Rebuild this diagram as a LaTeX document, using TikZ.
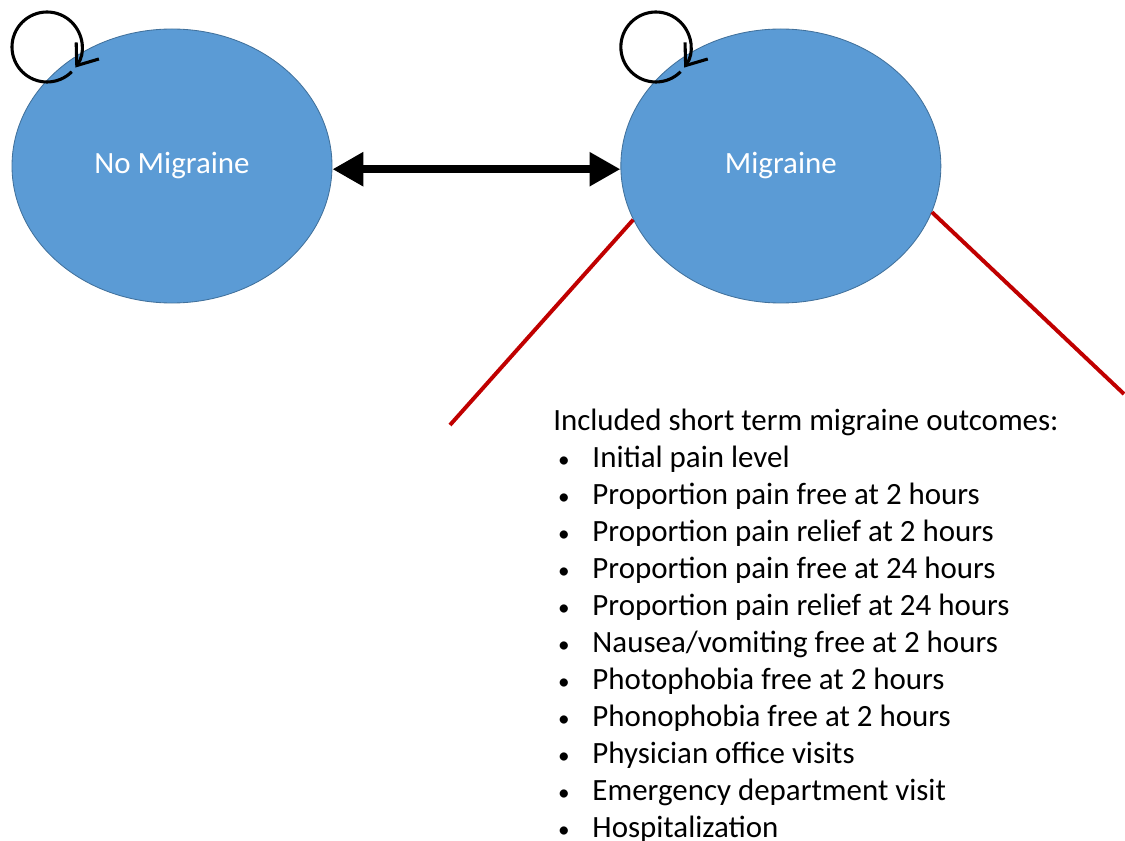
\documentclass[tikz,border=0pt]{standalone}
\usepackage{fontspec}
\setmainfont{Carlito}
\definecolor{statefill}{RGB}{91,155,213}
\definecolor{stateline}{RGB}{65,113,156}
\definecolor{outred}{RGB}{192,0,0}
\usetikzlibrary{shapes, arrows.meta, positioning, calc}
\newcommand{\outitem}[1]{\makebox[0.98cm][l]{\hspace{0.12cm}\scalebox{0.75}{\textbullet}}#1}

\begin{document}
\begin{tikzpicture}
  \useasboundingbox (0,0) rectangle (28.125,21);
  \tikzset{
    state/.style={ellipse, draw=stateline, fill=statefill, line width=0.6pt, minimum width=8cm, minimum height=6.85cm, text=white, font=\fontsize{22}{26}\selectfont},
    selfloop/.style={line width=2.2pt, -{Straight Barb[length=13pt,width=20pt,line width=2.2pt]}},
    redline/.style={outred, line width=2.8pt},
  }
  \node[state] (nomig) at (4.3,16.85) {No Migraine};
  \node[state, right=7.2cm of nomig] (mig) {Migraine};

  % transitions between the two states
  \draw[line width=5.5pt, {Triangle[length=22pt,width=23pt]}-{Triangle[length=22pt,width=23pt]}] ([yshift=-0.08cm]nomig.east) -- ([yshift=-0.08cm]mig.west);
  \draw[selfloop] ([shift={(-3.125,2.975)}]nomig.center) ++(315:0.875) arc[start angle=315, end angle=-36, radius=0.875];
  \draw[selfloop] ([shift={(-3.125,2.975)}]mig.center) ++(315:0.875) arc[start angle=315, end angle=-36, radius=0.875];

  % outcomes callout
  \coordinate (leftend) at (11.25,10.375);
  \coordinate (rightend) at (28.1,11.15);
  \draw[redline] (mig.200) -- (leftend);
  \draw[redline] (mig.-17) -- (rightend);

  \node[anchor=north west, inner sep=0pt, align=left, font=\fontsize{22}{26.3}\selectfont] (outcomes) at (13.825,10.78) {
    Included short term migraine outcomes:\\
    \outitem{Initial pain level}\\
    \outitem{Proportion pain free at 2 hours}\\
    \outitem{Proportion pain relief at 2 hours}\\
    \outitem{Proportion pain free at 24 hours}\\
    \outitem{Proportion pain relief at 24 hours}\\
    \outitem{Nausea/vomiting free at 2 hours}\\
    \outitem{Photophobia free at 2 hours}\\
    \outitem{Phonophobia free at 2 hours}\\
    \outitem{Physician office visits}\\
    \outitem{Emergency department visit}\\
    \outitem{Hospitalization}
  };
\end{tikzpicture}
\end{document}
